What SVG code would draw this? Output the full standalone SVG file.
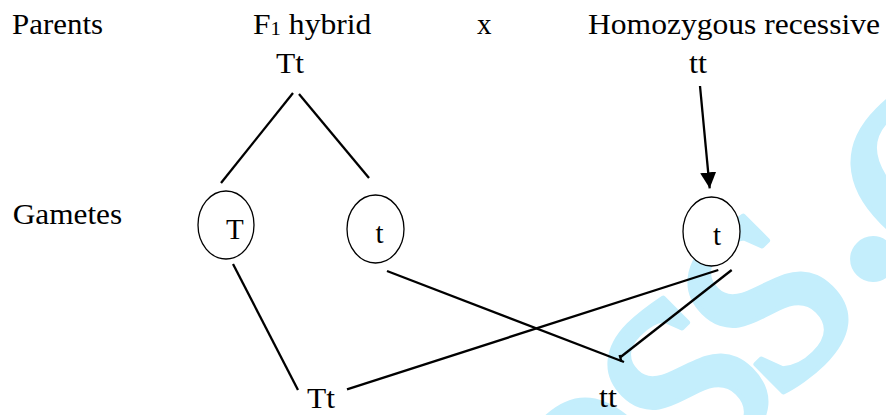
<svg xmlns="http://www.w3.org/2000/svg" width="886" height="415" viewBox="0 0 886 415">
<style>
.t{font-family:"Liberation Serif","Times New Roman",serif;font-size:29px;fill:#000}
.wm{font-family:"Liberation Serif","Times New Roman",serif;font-size:345px;fill:#c4eefc;stroke:#c4eefc;stroke-width:5;stroke-linejoin:round}
.ln{stroke:#000;stroke-width:2.3;fill:none}
.gam{stroke:#000;stroke-width:1.3;fill:#fff}
</style>
<defs>
<marker id="ah" markerUnits="userSpaceOnUse" markerWidth="17" markerHeight="16" refX="16" refY="8" orient="auto">
<path d="M0,0 L16,8 L0,16 z" fill="#000"/>
</marker>
</defs>
<rect width="886" height="415" fill="#fff"/>
<g id="watermark">
<text class="wm" text-anchor="middle" y="79" transform="translate(600 482) rotate(-45)">e</text>
<text class="wm" text-anchor="middle" y="79" transform="translate(688 384) rotate(-45)">s</text>
<text class="wm" text-anchor="middle" y="79" transform="translate(768 302) rotate(-45)">s</text>
<text class="wm" text-anchor="middle" y="17" transform="translate(872 258) rotate(-45)" stroke-width="1">.</text>
<text class="wm" text-anchor="middle" y="79" transform="translate(928 178) rotate(-45)">c</text>
</g>
<g id="labels">
<text class="t" x="12" y="33.5" textLength="91" lengthAdjust="spacingAndGlyphs">Parents</text>
<text class="t" x="12.7" y="224" textLength="109.5" lengthAdjust="spacingAndGlyphs">Gametes</text>
<text class="t" x="477" y="33.5">x</text>
</g>
<g id="connectors">
<line class="ln" x1="293" y1="93" x2="221" y2="183"/>
<line class="ln" x1="299" y1="94" x2="369" y2="178"/>
<line class="ln" x1="700" y1="86" x2="709.7" y2="188.3" stroke-width="2.8" marker-end="url(#ah)"/>
<line class="ln" x1="233" y1="264" x2="298" y2="390"/>
<line class="ln" x1="347" y1="389.3" x2="718.3" y2="270"/>
<line class="ln" x1="387" y1="271" x2="624" y2="362"/>
<line class="ln" x1="620" y1="357.5" x2="731.7" y2="270"/>
<line class="ln" x1="619.6" y1="355" x2="621.4" y2="361.5" stroke-width="1.8"/>
</g>
<g id="parent-f1">
<text class="t" transform="translate(253 33.5) scale(1.09 1)">F<tspan font-size="19" dy="1">1</tspan><tspan dy="-1"> hybrid</tspan></text>
<text class="t" x="276" y="73" textLength="28" lengthAdjust="spacingAndGlyphs">Tt</text>
</g>
<g id="parent-recessive">
<text class="t" x="588" y="33.5" textLength="292" lengthAdjust="spacingAndGlyphs">Homozygous recessive</text>
<text class="t" x="689" y="73" textLength="18" lengthAdjust="spacingAndGlyphs">tt</text>
</g>
<g id="gamete-T">
<ellipse class="gam" cx="226" cy="225" rx="28" ry="34"/>
<text class="t" x="226" y="239">T</text>
</g>
<g id="gamete-t1">
<ellipse class="gam" cx="375.5" cy="229" rx="28.5" ry="34"/>
<text class="t" x="375.5" y="243">t</text>
</g>
<g id="gamete-t2">
<ellipse class="gam" cx="711.5" cy="231.5" rx="28.5" ry="34.5" fill="none"/>
<text class="t" x="713" y="245">t</text>
</g>
<g id="offspring-Tt">
<text class="t" x="307" y="408" textLength="28" lengthAdjust="spacingAndGlyphs">Tt</text>
</g>
<g id="offspring-tt">
<text class="t" x="599" y="407" textLength="18" lengthAdjust="spacingAndGlyphs">tt</text>
</g>
</svg>
